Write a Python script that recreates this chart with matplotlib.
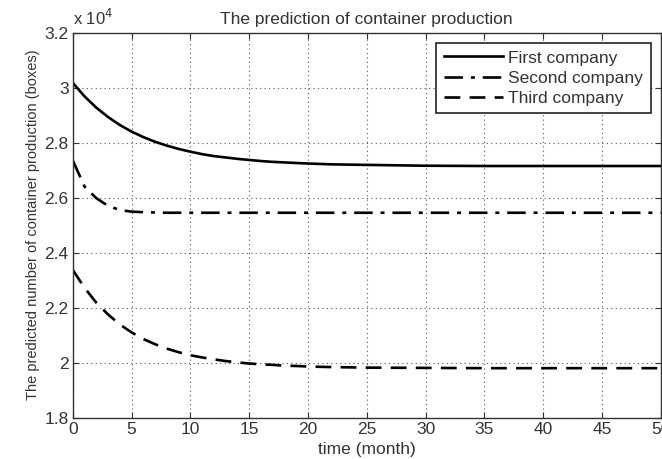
import numpy as np
import matplotlib
matplotlib.use("Agg")
import matplotlib.pyplot as plt

plt.rcParams['font.family'] = ['Liberation Sans', 'DejaVu Sans']

# time points (month)
months = [0, 1, 2, 3, 4, 5, 6, 7, 8, 9, 10, 11, 12, 13, 14, 15, 16, 17, 18, 19, 20,
          22, 25, 30, 35, 40, 45, 50]

# predicted production, units of 10^4 boxes
first_company = [3.017, 2.968, 2.927, 2.893, 2.864, 2.840, 2.820, 2.803, 2.789, 2.777,
                 2.767, 2.758, 2.751, 2.746, 2.741, 2.737, 2.733, 2.730, 2.728, 2.726,
                 2.724, 2.721, 2.719, 2.716, 2.715, 2.715, 2.715, 2.715]
second_company = [2.735, 2.640, 2.598, 2.570, 2.555, 2.549, 2.547, 2.546, 2.545, 2.545,
                  2.545, 2.545, 2.545, 2.545, 2.545, 2.545, 2.545, 2.545, 2.545, 2.545,
                  2.545, 2.545, 2.545, 2.545, 2.545, 2.545, 2.545, 2.545]
third_company = [2.337, 2.272, 2.218, 2.175, 2.139, 2.110, 2.086, 2.067, 2.051, 2.038,
                 2.027, 2.019, 2.012, 2.006, 2.001, 1.997, 1.994, 1.992, 1.989, 1.988,
                 1.986, 1.984, 1.982, 1.981, 1.980, 1.980, 1.980, 1.980]

x_ticks = [0, 5, 10, 15, 20, 25, 30, 35, 40, 45, 50]
y_ticks = [1.8, 2.0, 2.2, 2.4, 2.6, 2.8, 3.0, 3.2]
y_ticklabels = ["1.8", "2", "2.2", "2.4", "2.6", "2.8", "3", "3.2"]

fig = plt.figure(figsize=(6.62, 4.59), dpi=100)
ax = fig.add_axes([0.110, 0.090, 0.888, 0.839])

ax.plot(months, first_company, "-", color="black", lw=1.9, label="First company")
ax.plot(months, second_company, color="black", lw=1.9, dashes=(7, 3, 1.5, 3),
        label="Second company")
ax.plot(months, third_company, color="black", lw=1.9, dashes=(6, 3.5),
        label="Third company")

ax.set_xlim(0, 50)
ax.set_ylim(1.8, 3.2)
ax.set_xticks(x_ticks)
ax.set_yticks(y_ticks)
ax.set_yticklabels(y_ticklabels)
ax.tick_params(direction="in", top=True, right=True, length=4, labelsize=12.5,
               color="#333333", labelcolor="#333333", pad=3)
ax.grid(True, linestyle=(0, (1, 3)), color="#555555", lw=0.8)
for s in ax.spines.values():
    s.set_color("#333333")
    s.set_linewidth(1.0)

ax.set_title("The prediction of container production", fontsize=12.5, color="#333333", pad=6)
ax.set_xlabel("time (month)", fontsize=12.5, color="#333333", labelpad=4)
ax.set_ylabel("The predicted number of container production (boxes)", fontsize=10.5,
              color="#333333", labelpad=3)
ax.text(0.0, 1.012, "x 10$^4$", transform=ax.transAxes, fontsize=12, color="#333333",
        ha="left", va="bottom")

leg = ax.legend(loc="upper right", bbox_to_anchor=(0.983, 0.974), fontsize=12.5,
                fancybox=False, framealpha=1, edgecolor="#222222", handlelength=3.4,
                handletextpad=0.3, borderpad=0.45, labelspacing=0.28, borderaxespad=0)
leg.get_frame().set_linewidth(1.2)
for t in leg.get_texts():
    t.set_color("#333333")

fig.savefig("out.png", dpi=100)
